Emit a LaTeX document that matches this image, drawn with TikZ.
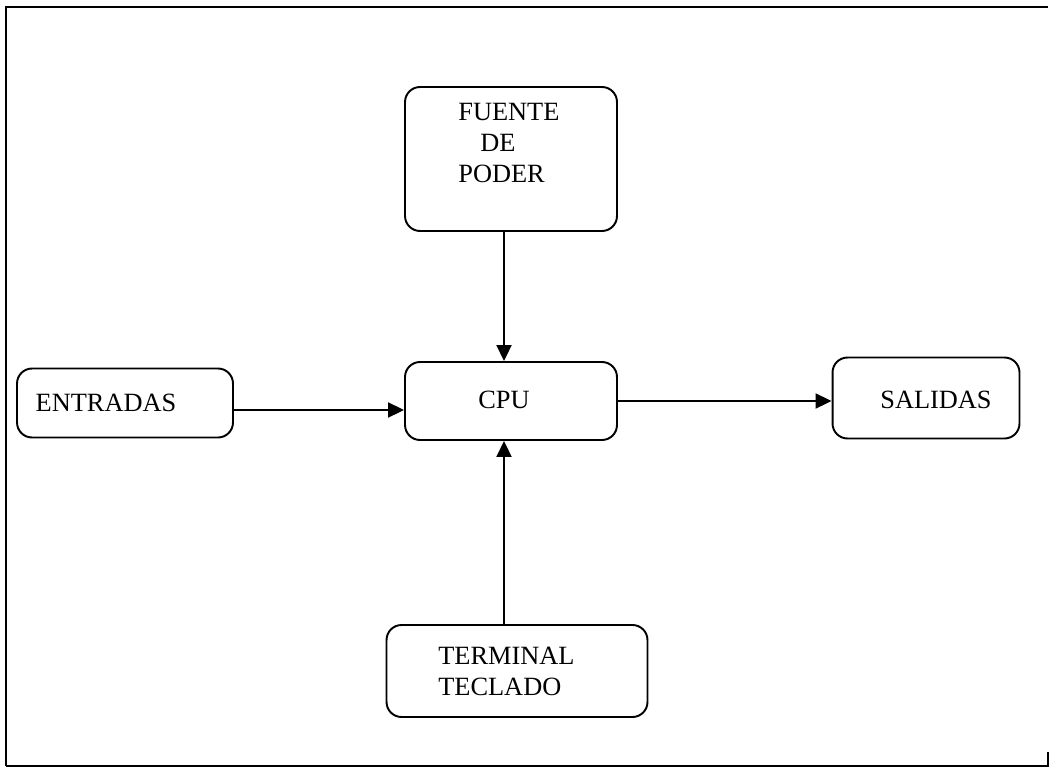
\documentclass[tikz,border=0pt]{standalone}
\usepackage{fontspec}
\setmainfont{Liberation Serif}
\usetikzlibrary{arrows.meta}

\begin{document}
\begin{tikzpicture}[x=0.02cm,y=-0.02cm,
    caja/.style={draw,line width=1.1pt,rounded corners=0.3cm,inner sep=0pt},
    texto/.style={font=\fontsize{15}{17.5}\selectfont,inner sep=0pt,align=left},
    flecha/.style={line width=1.1pt,-{Triangle[length=0.32cm,width=0.3cm]}}]
  \useasboundingbox (0,0) rectangle (1050,770);
  % marco
  \draw[line width=1.1pt] (6,766) -- (6,7) -- (1048,7);
  \draw[line width=1.1pt] (6,766) -- (1048,766) -- (1048,752);
  % cajas
  \node[caja,minimum width=4.24cm,minimum height=2.88cm] (fuente) at (511,159) {};
  \node[caja,minimum width=4.24cm,minimum height=1.56cm] (cpu) at (511,401) {};
  \node[caja,minimum width=4.32cm,minimum height=1.38cm] (entradas) at (125,403) {};
  \node[caja,minimum width=3.74cm,minimum height=1.62cm] (salidas) at (926,398) {};
  \node[caja,minimum width=5.22cm,minimum height=1.84cm] (terminal) at (517,671) {};
  % textos
  \node[texto,anchor=north west] (fuente-t) at (458,103) {FUENTE\\\hspace{0.44cm}DE\\PODER};
  \node[texto] (cpu-t) at (504,400) {CPU};
  \node[texto] (entradas-t) at (106,403) {ENTRADAS};
  \node[texto] (salidas-t) at (936,400) {SALIDAS};
  \node[texto,anchor=north west] (terminal-t) at (438,647) {TERMINAL\\TECLADO};
  % flechas
  \draw[flecha] ([xshift=-0.14cm]fuente.south) -- ([xshift=-0.14cm]cpu.north);
  \draw[flecha] ([xshift=-0.26cm]terminal.north) -- ([xshift=-0.14cm]cpu.south);
  \draw[flecha] ([yshift=-0.14cm]entradas.east) -- ([yshift=-0.14cm]entradas.east -| cpu.west);
  \draw[flecha] (cpu.east) -- (cpu.east -| salidas.west);
\end{tikzpicture}
\end{document}
